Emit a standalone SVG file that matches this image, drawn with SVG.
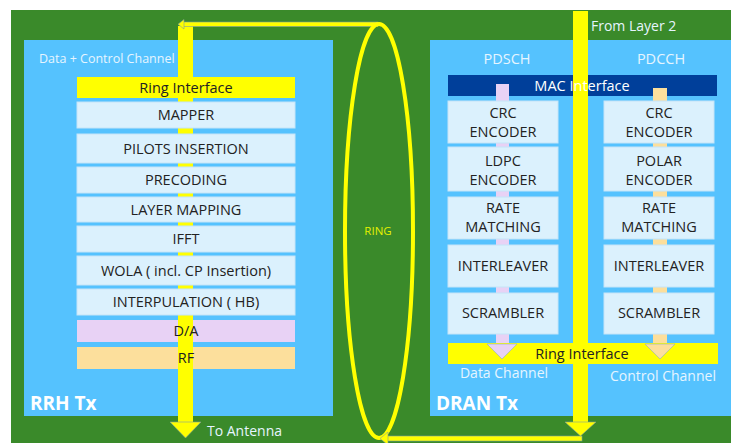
<svg xmlns="http://www.w3.org/2000/svg" width="731" height="443" viewBox="0 0 731 443">
<defs>
<style>
text{font-family:"Open Sans","Liberation Sans",sans-serif}
.box{fill:#dbf1fd;stroke:#c5e4f7;stroke-width:1}
.lbl{font-size:14.5px;fill:#222222;text-anchor:middle}
.wl{fill:#e6f5ff}
.yel{fill:#ffff00}
.edge{stroke:#7fa0a0;stroke-width:0.6}
</style>
</defs>
<rect x="0" y="0" width="731" height="443" fill="#ffffff"/>
<rect x="11" y="10" width="720" height="433" fill="#3a8a2a"/>

<g id="rrh">
<rect x="24" y="40" width="309" height="376" fill="#55c2fe"/>
<text x="39" y="63" class="wl" font-size="12.5">Data + Control Channel</text>
<text x="30" y="410" font-size="19" font-weight="bold" fill="#ffffff">RRH Tx</text>
</g>

<g id="dran">
<rect x="430" y="40" width="301" height="376" fill="#55c2fe"/>
<text x="507" y="64" class="wl" font-size="14.5" text-anchor="middle">PDSCH</text>
<text x="661" y="64" class="wl" font-size="14.5" text-anchor="middle">PDCCH</text>
<text x="436" y="410" font-size="19" font-weight="bold" fill="#ffffff">DRAN Tx</text>
<text x="504" y="378" class="wl" font-size="14" text-anchor="middle">Data Channel</text>
<text x="663" y="381" class="wl" font-size="14" text-anchor="middle">Control Channel</text>
</g>

<g id="rrh-da"><rect x="77" y="320" width="218" height="22" fill="#e8d2f5"/></g>
<g id="rrh-rf"><rect x="77" y="347" width="218" height="22" fill="#fcdf9c"/></g>

<g id="connectors">
<rect x="178" y="26" width="15" height="397" class="yel"/>
<polygon points="170,422 201,422 185.5,438" class="yel edge"/>
<rect x="183" y="22" width="195" height="4.5" class="yel edge"/>
<polygon points="178,24.2 184,19.5 184,29" class="yel edge"/>
<ellipse cx="379" cy="231" rx="34" ry="207" fill="none" stroke="#ffff00" stroke-width="4"/>
<rect x="386" y="436" width="196" height="5" class="yel edge"/>
<polygon points="380,438.5 388,432 388,445" class="yel edge"/>
<rect x="573" y="11" width="15" height="412" class="yel"/>
<polygon points="565,422 596,422 580.5,436" class="yel edge"/>
<rect x="496" y="90" width="13" height="254" fill="#e8d2f5"/>
<rect x="653" y="90" width="14" height="254" fill="#fcdf9c"/>
</g>

<g id="mac">
<rect x="448" y="75" width="269" height="21" fill="#003f9a"/>
<rect x="573" y="75" width="15" height="21" class="yel"/>
<rect x="496" y="84" width="13" height="12" fill="#e8d2f5"/>
<rect x="653" y="88" width="14" height="8" fill="#fcdf9c"/>
<text x="582" y="91" font-size="14.5" fill="#ffffff" text-anchor="middle">MAC Interface</text>
</g>

<g id="ring-if-left">
<rect x="77" y="77" width="218" height="21" class="yel"/>
<text x="186" y="92.5" class="lbl">Ring Interface</text>
</g>
<g id="mapper"><rect x="77" y="102" width="218" height="26" class="box"/><text x="186" y="120" class="lbl">MAPPER</text></g>
<g id="pilots"><rect x="77" y="134" width="218" height="29" class="box"/><text x="186" y="153.5" class="lbl">PILOTS INSERTION</text></g>
<g id="precoding"><rect x="77" y="167" width="218" height="26" class="box"/><text x="186" y="185" class="lbl">PRECODING</text></g>
<g id="layer-mapping"><rect x="77" y="197" width="218" height="25" class="box"/><text x="186" y="214.5" class="lbl">LAYER MAPPING</text></g>
<g id="ifft"><rect x="77" y="226" width="218" height="26" class="box"/><text x="186" y="244" class="lbl">IFFT</text></g>
<g id="wola"><rect x="77" y="256" width="218" height="29" class="box"/><text x="186" y="275.5" class="lbl">WOLA ( incl. CP Insertion)</text></g>
<g id="interp"><rect x="77" y="289" width="218" height="26" class="box"/><text x="186" y="307" class="lbl">INTERPULATION ( HB)</text></g>
<g id="da-label"><text x="186" y="336" class="lbl">D/A</text></g>
<g id="rf-label"><text x="186" y="363" class="lbl">RF</text></g>

<g id="crc-d"><rect x="448" y="101" width="110" height="42" class="box"/><text x="503" y="118" class="lbl">CRC</text><text x="503" y="137" class="lbl">ENCODER</text></g>
<g id="ldpc"><rect x="448" y="147" width="110" height="44" class="box"/><text x="503" y="166" class="lbl">LDPC</text><text x="503" y="185" class="lbl">ENCODER</text></g>
<g id="rate-d"><rect x="448" y="197" width="110" height="42" class="box"/><text x="503" y="213" class="lbl">RATE</text><text x="503" y="232" class="lbl">MATCHING</text></g>
<g id="inter-d"><rect x="448" y="245" width="110" height="42" class="box"/><text x="503" y="271" class="lbl">INTERLEAVER</text></g>
<g id="scr-d"><rect x="448" y="293" width="110" height="41" class="box"/><text x="503" y="318" class="lbl">SCRAMBLER</text></g>

<g id="crc-c"><rect x="604" y="101" width="110" height="42" class="box"/><text x="659" y="118" class="lbl">CRC</text><text x="659" y="137" class="lbl">ENCODER</text></g>
<g id="polar"><rect x="604" y="147" width="110" height="44" class="box"/><text x="659" y="166" class="lbl">POLAR</text><text x="659" y="185" class="lbl">ENCODER</text></g>
<g id="rate-c"><rect x="604" y="197" width="110" height="42" class="box"/><text x="659" y="213" class="lbl">RATE</text><text x="659" y="232" class="lbl">MATCHING</text></g>
<g id="inter-c"><rect x="604" y="245" width="110" height="42" class="box"/><text x="659" y="271" class="lbl">INTERLEAVER</text></g>
<g id="scr-c"><rect x="604" y="293" width="110" height="41" class="box"/><text x="659" y="318" class="lbl">SCRAMBLER</text></g>

<g id="ring-if-right">
<rect x="448" y="343" width="270" height="21" class="yel"/>
<polygon points="487,344 517,344 502,359" fill="#e8d2f5" stroke="#8fb0c0" stroke-width="0.6"/>
<polygon points="645,344 675,344 660,359" fill="#fcdf9c" stroke="#8fb0c0" stroke-width="0.6"/>
<text x="582" y="358.5" class="lbl">Ring Interface</text>
</g>

<g id="labels">
<text x="207" y="436" class="wl" font-size="14">To Antenna</text>
<text x="591" y="31" class="wl" font-size="14">From Layer 2</text>
<text x="378" y="235" font-size="11.5" fill="#e4f000" text-anchor="middle">RING</text>
</g>
</svg>
